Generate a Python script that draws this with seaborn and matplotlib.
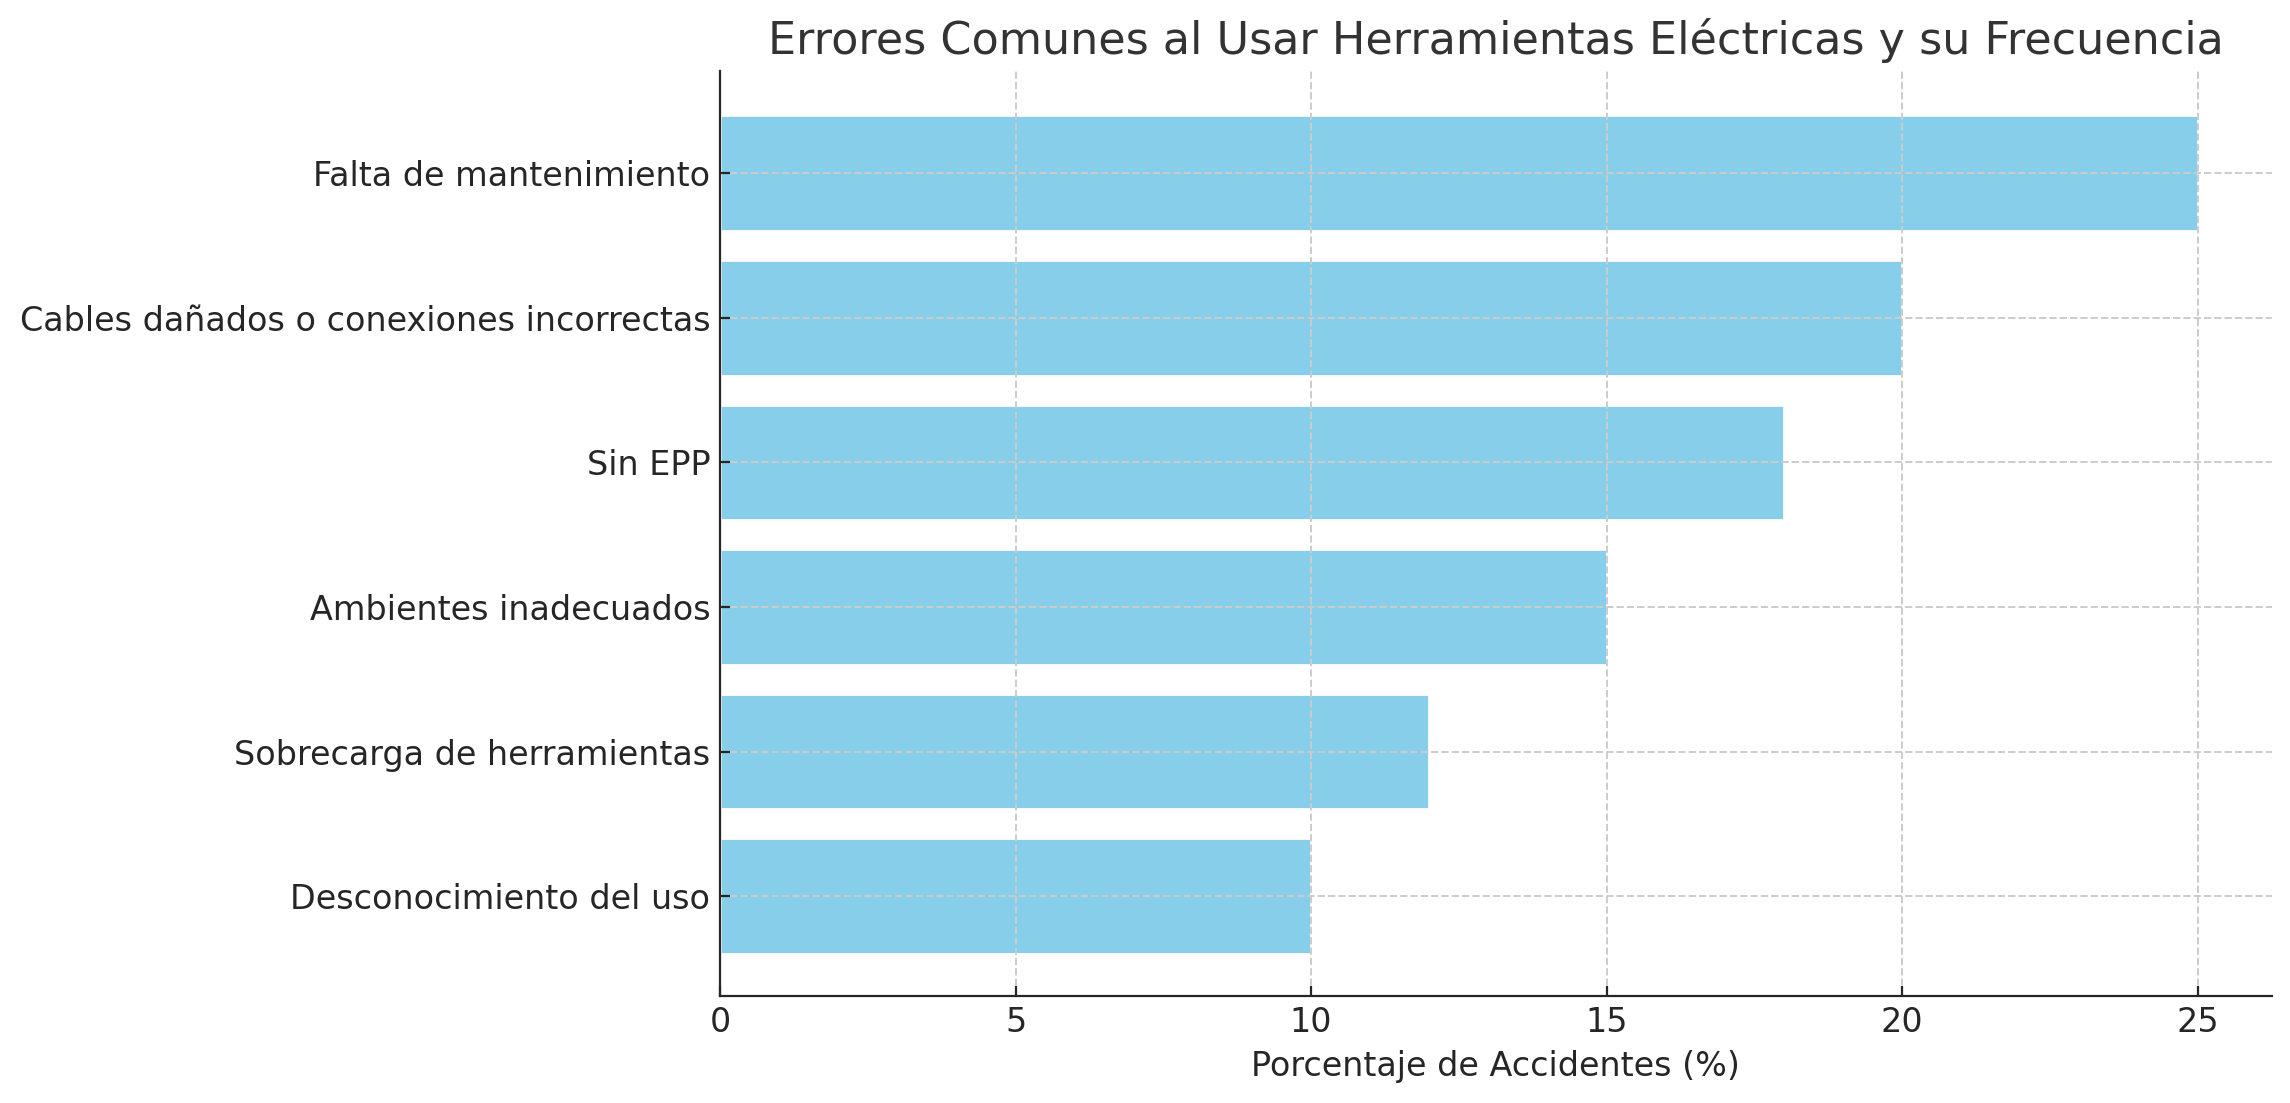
import seaborn as sns
import matplotlib.pyplot as plt
import pandas as pd

categories = [
    "Falta de mantenimiento",
    "Cables dañados o conexiones incorrectas",
    "Sin EPP",
    "Ambientes inadecuados",
    "Sobrecarga de herramientas",
    "Desconocimiento del uso",
]
percentages = [25, 20, 18, 15, 12, 10]

df = pd.DataFrame({"Error": categories, "Porcentaje": percentages})

sns.set_style("ticks")
plt.rcParams["font.family"] = ["DejaVu Sans"]

fig, ax = plt.subplots(figsize=(11.45, 5.515), dpi=200)
sns.barplot(data=df, x="Porcentaje", y="Error", color="#87CEEB",
            saturation=1, width=0.8, ax=ax)

ax.set_title("Errores Comunes al Usar Herramientas Eléctricas y su Frecuencia",
             fontsize=16, color="#333333")
ax.set_xlabel("Porcentaje de Accidentes (%)", fontsize=12)
ax.set_ylabel("")
ax.set_xlim(0, 26.25)
ax.set_ylim(5.69, -0.71)
ax.tick_params(axis="both", direction="in", labelsize=12)
ax.grid(True, linestyle="--", color="#cccccc", linewidth=0.7)
ax.set_axisbelow(False)
sns.despine(ax=ax)
for spine in ax.spines.values():
    spine.set_zorder(3)

plt.subplots_adjust(left=0.3144, right=0.992, top=0.936, bottom=0.097)
plt.savefig("out.png", dpi=200)
